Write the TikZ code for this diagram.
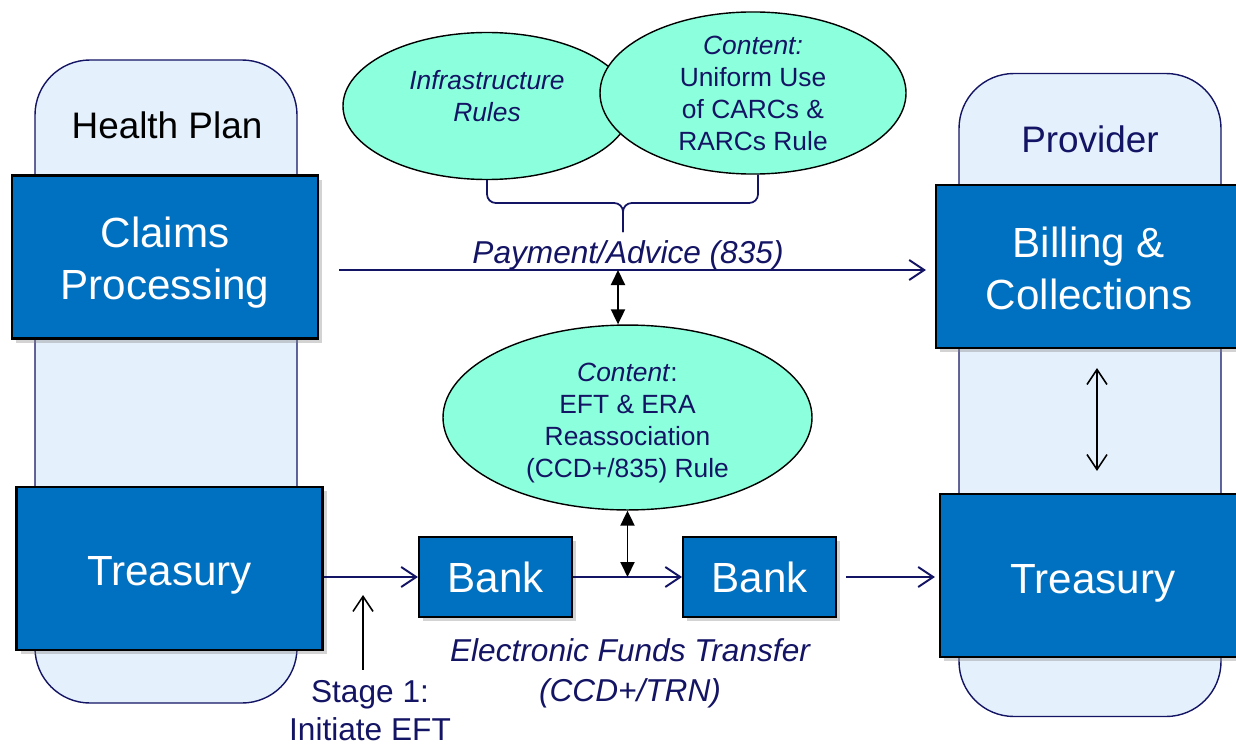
\documentclass[tikz,border=0pt]{standalone}
\usepackage{fontspec}
\setmainfont{Liberation Sans}
\usetikzlibrary{positioning, shapes.geometric, arrows.meta, shadows}

\definecolor{boxBlue}{RGB}{0,112,192}
\definecolor{navyInk}{RGB}{20,20,100}
\definecolor{paleBlue}{RGB}{228,240,252}
\definecolor{aquaFill}{RGB}{140,255,220}

\begin{document}
\begin{tikzpicture}[
        partyBox/.style = {rectangle, rounded corners = 1.1cm, draw = navyInk, fill = paleBlue, line width = 0.8pt, minimum width = 5.24cm, minimum height = 12.86cm},
        blueBox/.style = {rectangle, draw = black, line width = 1.2pt, fill = boxBlue, text = white, align = center, drop shadow = {shadow xshift = 0.8mm, shadow yshift = -0.8mm, opacity = 0.35}, font = \fontsize{24}{29.6}\selectfont},
        bigBox/.style = {blueBox, minimum width = 6.12cm, minimum height = 3.26cm},
        bankBox/.style = {blueBox, minimum width = 3.06cm, minimum height = 1.6cm},
        ruleBubble/.style = {ellipse, draw = black, line width = 0.8pt, fill = aquaFill, text = navyInk, align = center, inner sep = 0pt, font = \fontsize{15}{18.2}\selectfont},
        flowText/.style = {text = navyInk, align = center, font = \fontsize{18}{22.8}\selectfont\itshape},
        flow/.style = {draw = navyInk, line width = 1.1pt, -{Straight Barb[length = 3mm, width = 4mm]}},
        link/.style = {draw = black, line width = 1.1pt, {Triangle[length = 3mm, width = 2.8mm]}-{Triangle[length = 3mm, width = 2.8mm]}},
        thinLink/.style = {draw = black, line width = 0.9pt, -{Straight Barb[length = 3mm, width = 4mm]}},
        braceLine/.style = {draw = navyInk, line width = 1pt, rounded corners = 5pt}
    ]
        \useasboundingbox (0, 0) rectangle (24.72, 14.94);

        % the two parties
        \node[partyBox] (planNode) at (3.32, 7.31) {};
        \node[partyBox] (providerNode) at (21.8, 7.04) {};
        \node[font = \fontsize{21}{25}\selectfont] (planTitle) at (3.34, 12.44) {Health Plan};
        \node[font = \fontsize{21}{25}\selectfont, text = navyInk] (providerTitle) at (21.8, 12.16) {Provider};

        \node[bigBox] (claimsNode) at (3.30, 9.80) {\mbox{}\\[-6.4pt]Claims\\Processing};
        \node[bigBox] (billingNode) at (21.78, 9.61) {\mbox{}\\[-10pt]Billing \&\\Collections};
        \node[bigBox, text height = 24pt] (treasLNode) at (3.39, 3.57) {Treasury};
        \node[bigBox, text height = 26pt] (treasRNode) at (21.86, 3.43) {Treasury};

        \node[bankBox] (bankOneNode) at (9.91, 3.40) {Bank};
        \node[bankBox] (bankTwoNode) [right = 2.18cm of bankOneNode] {Bank};

        % rule bubbles
        \node[ruleBubble, minimum width = 5.76cm, minimum height = 2.94cm] (infraNode) at (9.74, 12.82) {\itshape Infrastructure\\\itshape Rules\\[-6.8pt]\mbox{}};
        \node[ruleBubble, minimum width = 6.12cm, minimum height = 3.0cm] (carcNode) at (15.06, 13.08) {\itshape Content:\\Uniform Use\\of CARCs \&\\RARCs Rule};
        \node[ruleBubble, minimum width = 7.38cm, minimum height = 2.86cm] (eftNode) at (12.55, 6.59) {\mbox{}\\[-1.5pt]\textit{Content}:\\EFT \& ERA\\Reassociation\\(CCD+/835) Rule};

        \draw[braceLine] (infraNode.south) |- (12.46, 10.88) -- (12.46, 10.30);
        \draw[braceLine] ([xshift = 1mm]carcNode.south) |- (12.46, 10.88) -- (12.46, 10.30);

        % payment / advice
        \coordinate (payPoint) at (12.36, 9.54);
        \draw[flow, shorten <= 4mm, shorten >= 1.8mm] (claimsNode.east |- payPoint) -- (billingNode.west |- payPoint);
        \node[flowText] (payText) at (12.56, 9.84) {Payment/Advice (835)};
        \draw[link] (payPoint) -- (payPoint |- eftNode.north);

        % funds transfer
        \draw[flow] (treasLNode.east |- bankOneNode.west) -- (bankOneNode.west);
        \draw[flow] (bankOneNode.east) -- (bankTwoNode.west);
        \draw[flow, shorten <= 1.8mm, shorten >= 0.8mm] (bankTwoNode.east) -- (treasRNode.west |- bankTwoNode.east);
        \draw[link] (eftNode.south) -- (eftNode.south |- bankOneNode.east);
        \node[flowText] (eftText) at (12.6, 1.48) {Electronic Funds Transfer\\(CCD+/TRN)};

        \draw[thinLink, {Straight Barb[length = 3mm, width = 4mm]}-{Straight Barb[length = 3mm, width = 4mm]}, shorten <= 3.8mm, shorten >= 4.4mm] ([xshift = 1.6mm]billingNode.south) -- ([xshift = 1.6mm]billingNode.south |- treasRNode.north);

        % stage 1
        \node[text = navyInk, align = center, inner sep = 0pt, font = \fontsize{18}{21.6}\selectfont] (stageNode) at (7.40, 0.73) {Stage 1:\\Initiate EFT};
        \coordinate (stageTip) at (7.26, 3.04);
        \draw[thinLink, shorten <= 2mm] (stageNode.north -| stageTip) -- (stageTip);
      \end{tikzpicture}
\end{document}
